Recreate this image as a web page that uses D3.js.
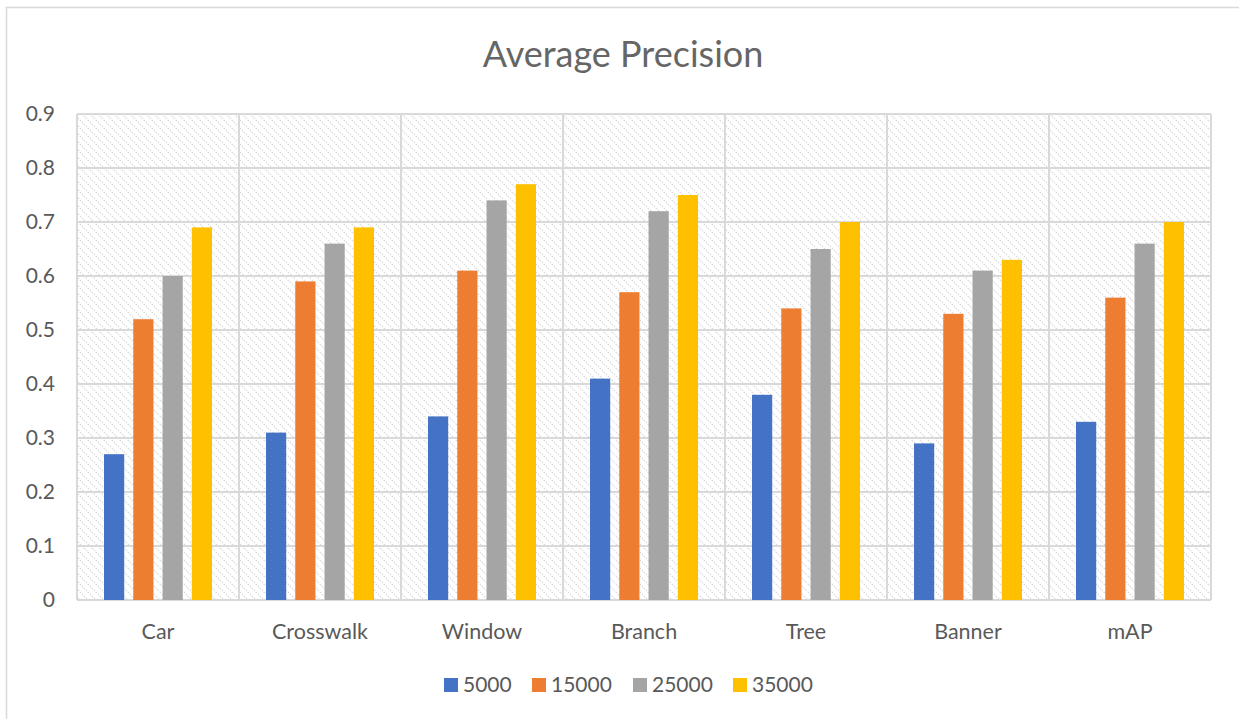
<!DOCTYPE html>
<html><head><meta charset="utf-8">
<script src="https://cdn.jsdelivr.net/npm/d3@7"></script>
<style>body{margin:0;background:#fff;} svg{display:block;font-family:Lato,"Open Sans",sans-serif;}</style>
</head><body>
<svg id="c" width="1239" height="719"></svg>
<script>
const categories = ["Car","Crosswalk","Window","Branch","Tree","Banner","mAP"];
const seriesNames = ["5000","15000","25000","35000"];
const seriesColors = ["#4472C4","#ED7D31","#A5A5A5","#FFC000"];
const values = [
  [0.27,0.31,0.34,0.41,0.38,0.29,0.33],
  [0.52,0.59,0.61,0.57,0.54,0.53,0.56],
  [0.60,0.66,0.74,0.72,0.65,0.61,0.66],
  [0.69,0.69,0.77,0.75,0.70,0.63,0.70]
];
const yTicks = [0,0.1,0.2,0.3,0.4,0.5,0.6,0.7,0.8,0.9];

const svg = d3.select("#c");
const L=77,R=1211,T=114,B=600;
// outer frame (right/bottom edges fall outside the view)
svg.append("rect").attr("x",6.5).attr("y",7.5).attr("width",1260).attr("height",730)
  .attr("fill","#fff").attr("stroke","#d9d9d9").attr("stroke-width",1.5);

const defs = svg.append("defs");
const pat = defs.append("pattern").attr("id","hatch").attr("patternUnits","userSpaceOnUse")
  .attr("width",8).attr("height",8);
pat.append("rect").attr("width",8).attr("height",8).attr("fill","#fff");
pat.append("path").attr("d","M-2,-2 L10,10 M-2,6 L2,10 M6,-2 L10,2")
  .attr("stroke","#d9d9d9").attr("stroke-width",1.3).attr("stroke-dasharray","1.4,1.4");

const x0 = d3.scaleBand().domain(categories).range([L,R]).paddingInner(0).paddingOuter(0);
const x1 = d3.scaleBand().domain(seriesNames).range([27,135]).paddingInner(0.31).paddingOuter(0);
const y = d3.scaleLinear().domain([0,0.9]).range([B,T]);

svg.append("rect").attr("x",L).attr("y",T).attr("width",R-L).attr("height",B-T).attr("fill","url(#hatch)");

// gridlines
svg.append("g").selectAll("line").data(yTicks).join("line")
  .attr("x1",L).attr("x2",R).attr("y1",d=>y(d)).attr("y2",d=>y(d))
  .attr("stroke","#d9d9d9").attr("stroke-width",2);
svg.append("g").selectAll("line").data(categories).join("line")
  .attr("x1",d=>x0(d)).attr("x2",d=>x0(d)).attr("y1",T).attr("y2",B)
  .attr("stroke","#d9d9d9").attr("stroke-width",2);
svg.append("line").attr("x1",R).attr("x2",R).attr("y1",T).attr("y2",B)
  .attr("stroke","#d9d9d9").attr("stroke-width",2);

// bars
seriesNames.forEach((s,si)=>{
  svg.append("g").selectAll("rect").data(categories).join("rect")
    .attr("x",(c)=>x0(c)+x1(s)).attr("width",x1.bandwidth())
    .attr("y",(c,ci)=>y(values[si][ci])).attr("height",(c,ci)=>B-y(values[si][ci]))
    .attr("fill",seriesColors[si]);
});

// y axis labels
const yAxis = d3.axisLeft(y).tickValues(yTicks).tickSize(0).tickPadding(22).tickFormat(d=>d===0?"0":d3.format(".1f")(d));
const ga = svg.append("g").attr("transform",`translate(${L},0)`).call(yAxis);
ga.select(".domain").remove();
ga.selectAll("text").attr("font-size",21).attr("fill","#595959").attr("font-family","Lato");

// x axis labels
const xAxis = d3.axisBottom(x0).tickSize(0).tickPadding(24);
const gx = svg.append("g").attr("transform",`translate(0,${B})`).call(xAxis);
gx.select(".domain").remove();
gx.selectAll("text").attr("font-size",21.5).attr("fill","#595959").attr("font-family","Lato");

// title
svg.append("text").attr("x",623).attr("y",67).attr("text-anchor","middle")
  .attr("font-size",36).attr("fill","#666666").text("Average Precision");

// legend
const legX = [444,532,633,733];
const lg = svg.append("g");
seriesNames.forEach((s,i)=>{
  lg.append("rect").attr("x",legX[i]).attr("y",678).attr("width",14).attr("height",14).attr("fill",seriesColors[i]);
  lg.append("text").attr("x",legX[i]+19).attr("y",692).attr("font-size",21).attr("fill","#595959").text(s);
});
</script>
</body></html>
